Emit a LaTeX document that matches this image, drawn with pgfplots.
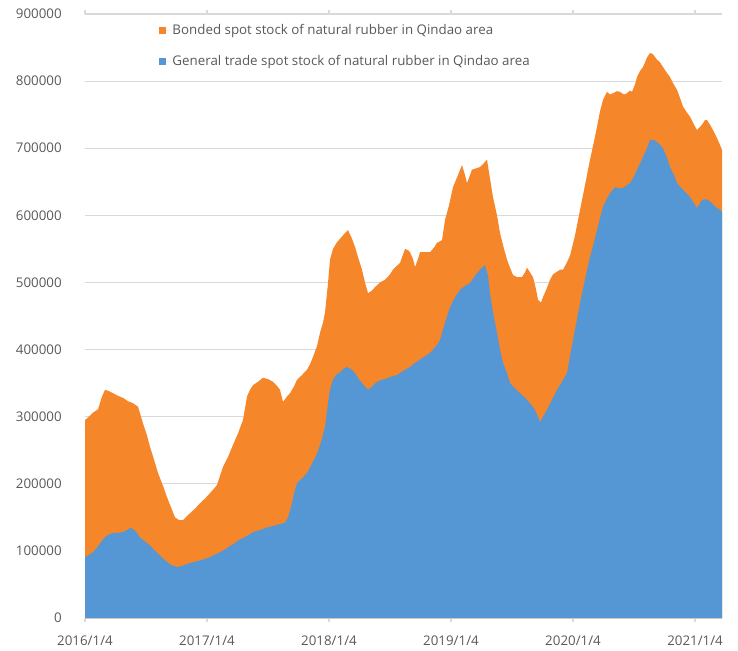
\documentclass[border=0pt]{standalone}
\usepackage{pgfplots}
\pgfplotsset{compat=1.18}
\usepackage{pgfplotstable}
\usepackage{fontspec}
\setmainfont{Open Sans}
\definecolor{rubOrange}{RGB}{245,134,42}
\definecolor{rubBlue}{RGB}{84,151,212}
\definecolor{txtGray}{RGB}{89,89,89}
\definecolor{gridGray}{RGB}{217,217,217}

% px = horizontal position (2016/1/4 at 85, one year = 122), v = stock in thousand tonnes
\pgfplotstableread{
px v
85 295
89 300
93 306
98 311
102 330
105 340
109 338
113 335
118 331
123 328
128 323
133 320
138 315
143 290
147 272
150 255
154 236
158 216
163 197
167 180
171 165
175 150
179 146
183 146
187 152
190 156
195 163
200 171
205 178
210 186
213 191
217 198
220 212
223 225
228 240
233 258
238 275
243 295
247 330
250 340
253 347
258 352
263 358
268 356
273 352
277 346
280 340
283 322
287 330
290 335
294 345
297 355
302 362
307 370
310 378
313 389
317 405
320 425
323 440
325 455
328 499
330 534
333 550
337 560
340 565
344 572
348 578
352 565
355 553
358 538
362 519
365 500
368 484
372 488
375 493
380 500
385 504
390 512
393 519
397 525
400 529
405 550
408 548
410 545
413 535
415 523
418 535
420 545
425 545
430 545
434 552
437 559
442 563
445 593
449 615
453 642
458 660
462 675
465 660
467 648
470 660
472 668
476 670
480 672
484 678
487 683
490 655
493 627
497 600
500 574
504 550
507 534
510 522
513 511
517 508
522 508
525 515
527 522
530 515
533 508
536 490
538 474
541 470
543 478
547 492
550 504
553 512
557 516
560 519
563 519
567 530
570 540
575 570
580 608
585 645
590 683
594 710
597 732
600 755
603 772
607 784
610 780
613 782
617 785
620 784
624 780
627 782
630 786
632 784
635 795
637 806
640 815
643 821
647 835
650 842
653 840
657 832
660 828
663 821
667 812
670 806
673 797
677 787
680 775
683 762
687 753
690 747
694 735
697 727
700 732
702 735
705 742
707 742
710 735
713 727
717 715
720 705
722 697
}\totaltable

\pgfplotstableread{
px v
85 91
89 94
93 98
97 105
102 115
106 122
110 125
114 127
118 127
123 128
127 131
130 134
133 133
137 127
140 120
145 114
150 108
155 100
160 93
165 86
170 80
175 77
178 76
183 78
188 81
193 83
200 86
207 89
213 93
220 98
227 104
233 110
240 117
247 122
253 128
260 131
267 135
273 137
280 140
285 142
288 150
291 165
294 185
297 201
302 208
307 216
312 230
317 245
321 262
325 285
328 320
330 340
333 355
336 362
340 366
344 372
347 374
351 371
355 365
358 358
362 350
365 345
368 340
372 345
377 352
382 355
387 357
392 360
397 362
400 365
405 370
410 374
415 380
420 385
425 390
430 395
435 403
440 414
445 440
450 463
455 478
460 489
465 495
470 499
475 510
480 519
485 526
488 510
490 484
493 455
497 425
500 400
503 380
507 365
510 350
515 342
520 335
525 328
530 320
535 310
538 300
540 292
543 300
547 310
552 325
557 340
562 352
567 365
570 390
575 430
580 469
585 505
590 538
594 560
597 578
600 596
603 613
607 625
610 633
615 642
619 640
623 641
627 645
630 648
634 658
637 668
640 677
643 687
647 700
650 712
654 712
657 709
660 705
663 700
667 686
670 672
674 660
677 648
680 643
683 638
687 632
690 627
694 618
697 611
700 618
702 623
705 624
708 623
712 618
715 613
718 610
722 606
}\generaltable

\begin{document}
\begin{tikzpicture}
\path[use as bounding box] (0,0) rectangle (553.5pt,487.5pt);
\begin{axis}[
  at={(63.75pt,24pt)}, anchor=south west,
  scale only axis, width=477.75pt, height=453pt,
  xmin=2016, xmax={2016+637/122}, ymin=0, ymax=900,
  axis line style={draw=none},
  ymajorgrids, grid style={gridGray, line width=0.8pt},
  ytick={0,100,...,900},
  yticklabels={0,100000,200000,300000,400000,500000,600000,700000,800000,900000},
  xtick={2016,2017,2018,2019,2020,2021},
  xticklabels={2016/1/4,2017/1/4,2018/1/4,2019/1/4,2020/1/4,2021/1/4},
  tick align=outside,
  x tick style={draw=gridGray, line width=0.8pt},
  major tick length=3pt,
  y tick style={draw=none},
  ticklabel style={font=\fontsize{10}{12}\selectfont, text=txtGray},
  yticklabel style={xshift=-11pt},
  xticklabel style={yshift=-7pt},
  /pgf/number format/assume math mode=true,
  legend style={at={(axis description cs:0.116,0.985)}, anchor=north west,
    draw=none, fill=none, inner sep=0pt, row sep=12pt,
    font=\fontsize{10}{12}\selectfont, text=txtGray,
    nodes={inner sep=1pt}},
  legend cell align=left,
  legend image code/.code={\fill[#1] (0pt,-2.6pt) rectangle (5.2pt,2.6pt); \path (0pt,0pt) -- (9pt,0pt);},
]
\addplot[fill=rubOrange, draw=none] table[x expr={2016+(\thisrow{px}-85)/122}, y=v] {\totaltable} \closedcycle;
\addlegendentry{Bonded spot stock of natural rubber in Qindao area}
\addplot[fill=rubBlue, draw=none] table[x expr={2016+(\thisrow{px}-85)/122}, y=v] {\generaltable} \closedcycle;
\addlegendentry{General trade spot stock of natural rubber in Qindao area}
\end{axis}
\end{tikzpicture}
\end{document}
